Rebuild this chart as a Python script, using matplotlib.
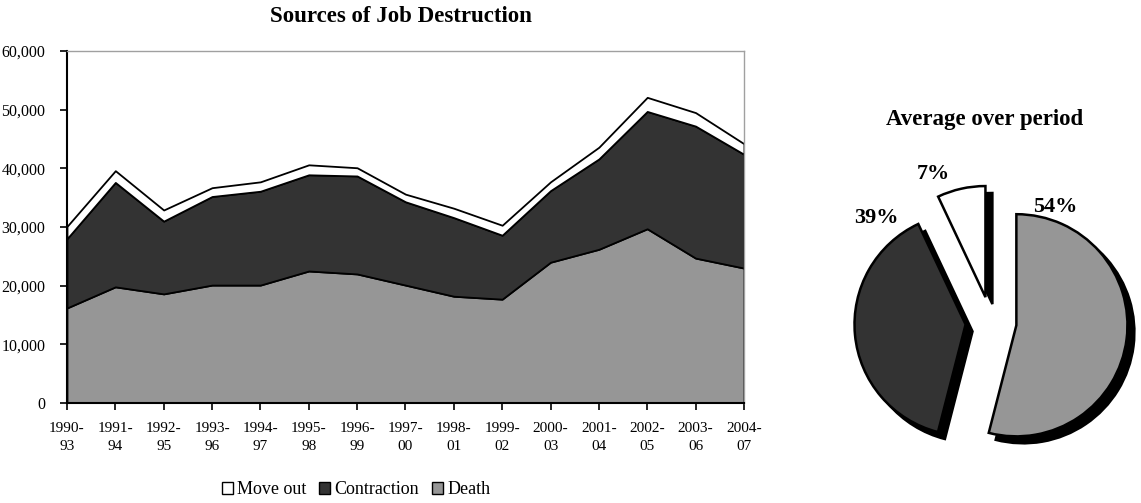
import matplotlib.pyplot as plt
import numpy as np
from matplotlib.patches import Patch

plt.rcParams['font.family'] = ['Liberation Serif', 'DejaVu Serif']

periods = ["1990-\n93", "1991-\n94", "1992-\n95", "1993-\n96", "1994-\n97",
           "1995-\n98", "1996-\n99", "1997-\n00", "1998-\n01", "1999-\n02",
           "2000-\n03", "2001-\n04", "2002-\n05", "2003-\n06", "2004-\n07"]

# values read from the stacked areas
death = [16200, 19800, 18600, 20100, 20100, 22500, 22000, 20100, 18200, 17700,
         24000, 26200, 29700, 24700, 23000]
contraction = [11800, 17800, 12400, 15100, 16000, 16400, 16700, 14200, 13400, 10900,
               12200, 15400, 20000, 22500, 19400]
move_out = [2100, 2000, 1900, 1500, 1600, 1700, 1400, 1300, 1600, 1700,
            1500, 2000, 2400, 2300, 1800]

pie_labels = ["Death", "Contraction", "Move out"]
pie_shares = [54, 39, 7]

c_death = "#969696"
c_contr = "#333333"
c_move = "white"

fig = plt.figure(figsize=(11.41, 5.03), dpi=100)

# --- area chart ---
ax = fig.add_axes([0.0587, 0.1988, 0.5933, 0.6998])
x = np.arange(len(periods))
ax.stackplot(x, death, contraction, move_out,
             colors=[c_death, c_contr, c_move],
             edgecolor="black", linewidth=1.3)
ax.set_xlim(0, len(periods) - 1)
ax.set_ylim(0, 60000)
ax.set_yticks(np.arange(0, 60001, 10000))
ax.set_yticklabels([f"{v:,}" for v in range(0, 60001, 10000)], fontsize=11.5)
ax.set_xticks(x)
ax.set_xticklabels(periods, fontsize=11, linespacing=1.5)
ax.tick_params(axis="both", direction="out", length=5, width=1.2, color="black")
ax.tick_params(axis="x", pad=9)
ax.tick_params(axis="y", pad=10.5)
for s in ["top", "right"]:
    ax.spines[s].set_color("#a0a0a0")
    ax.spines[s].set_linewidth(1.0)
for s in ["left", "bottom"]:
    ax.spines[s].set_linewidth(1.5)

fig.text(401 / 1141, 1 - 16 / 503, "Sources of Job Destruction", ha="center", va="center",
         fontsize=16.5, fontweight="bold")

handles = [Patch(facecolor=c_move, edgecolor="black", label="Move out"),
           Patch(facecolor=c_contr, edgecolor="black", label="Contraction"),
           Patch(facecolor=c_death, edgecolor="black", label="Death")]
fig.legend(handles=handles, loc="center", bbox_to_anchor=(356 / 1141, 1 - 490 / 503),
           ncol=3, frameon=False, fontsize=13, handlelength=0.6, handleheight=0.6,
           handletextpad=0.25, columnspacing=0.7)

# --- pie chart ---
pax = fig.add_axes([0.7283, 0.0417, 0.2805, 0.636])
wedges, _ = pax.pie(pie_shares, colors=[c_death, c_contr, c_move], startangle=90,
                    counterclock=False, explode=[0.23, 0.23, 0.23],
                    wedgeprops=dict(edgecolor="black", linewidth=1.8),
                    shadow=dict(ox=0.045, oy=-0.045, shade=1.0, alpha=1.0))
pax.set_xlim(-1.44, 1.44)
pax.set_ylim(-1.44, 1.44)
pax.set_aspect("equal")

# label placement: angle (deg) and distance from each wedge's own centre
label_angle = [72, 130, 113]
label_dist = [1.12, 1.25, 1.2]
for w, share, a, d in zip(wedges, pie_shares, label_angle, label_dist):
    cx, cy = w.center
    pax.text(cx + d * np.cos(np.radians(a)), cy + d * np.sin(np.radians(a)),
             f"{share}%", ha="center", va="center", fontsize=16, fontweight="bold")

fig.text(985 / 1141, 1 - 120 / 503, "Average over period", ha="center", va="center",
         fontsize=16.5, fontweight="bold")

fig.savefig("out.png", dpi=100)
